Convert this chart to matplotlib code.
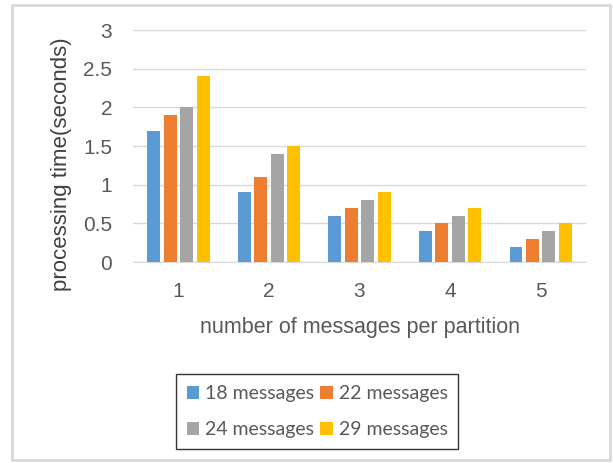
import matplotlib.pyplot as plt
import numpy as np
from matplotlib.patches import Rectangle

categories = ['1', '2', '3', '4', '5']
series_names = ['18 messages', '22 messages', '24 messages', '29 messages']
msg18 = [1.7, 0.9, 0.6, 0.4, 0.2]
msg22 = [1.9, 1.1, 0.7, 0.5, 0.3]
msg24 = [2.0, 1.4, 0.8, 0.6, 0.4]
msg29 = [2.4, 1.5, 0.9, 0.7, 0.5]
colors = ['#5B9BD5', '#ED7D31', '#A5A5A5', '#FFC000']

plt.rcParams['font.family'] = ['Liberation Sans', 'DejaVu Sans']

fig = plt.figure(figsize=(6.13, 4.63), dpi=100)
ax = fig.add_axes([0.217, 0.434, 0.739, 0.501])

x = np.arange(len(categories))
width = 0.143
stride = 0.182
all_series = [msg18, msg22, msg24, msg29]
bars = []
for i, (vals, name, c) in enumerate(zip(all_series, series_names, colors)):
    offset = (i - 1.5) * stride
    b = ax.bar(x + offset, vals, width, color=c, label=name, zorder=3)
    bars.append(b)

ax.set_xlim(-0.5, len(categories) - 0.5)
ax.set_ylim(0, 3)
ax.set_yticks(np.arange(0, 3.01, 0.5))
ax.set_yticklabels(['0', '0.5', '1', '1.5', '2', '2.5', '3'])
ax.set_xticks(x)
ax.set_xticklabels(categories)
ax.tick_params(axis='both', length=0, labelsize=15, labelcolor='#595959')
ax.tick_params(axis='y', pad=15)
ax.tick_params(axis='x', pad=14)
ax.yaxis.grid(True, color='#D9D9D9', linewidth=1, zorder=0)
for s in ['left', 'right', 'top']:
    ax.spines[s].set_visible(False)
ax.spines['bottom'].set_color('#D9D9D9')

ax.set_ylabel('processing time(seconds)', fontsize=16, color='#404040')
ax.yaxis.set_label_coords(-0.157, 0.42)
ax.yaxis.label.set_va('center')
ax.set_xlabel('number of messages per partition', fontsize=15.5, color='#595959', labelpad=12)

# excel fills legend row by row, matplotlib column by column
order = [0, 2, 1, 3]
leg = fig.legend([bars[i] for i in order], [series_names[i] for i in order],
                 loc='lower left', bbox_to_anchor=(0.287, 0.03), ncol=2,
                 frameon=True, fancybox=False, handlelength=0.65,
                 handleheight=0.65, handletextpad=0.3, columnspacing=0.3,
                 labelspacing=1.0, borderpad=0.55, borderaxespad=0,
                 prop={'family': 'Lato', 'size': 14})
leg.get_frame().set_edgecolor('black')
leg.get_frame().set_linewidth(1)
for t in leg.get_texts():
    t.set_color('#595959')

fig.patches.append(Rectangle((12 / 613, 3 / 463), 598 / 613, 455 / 463,
                             transform=fig.transFigure, fill=False,
                             edgecolor='#D9D9D9', linewidth=2))

fig.savefig('out.png', dpi=100)
